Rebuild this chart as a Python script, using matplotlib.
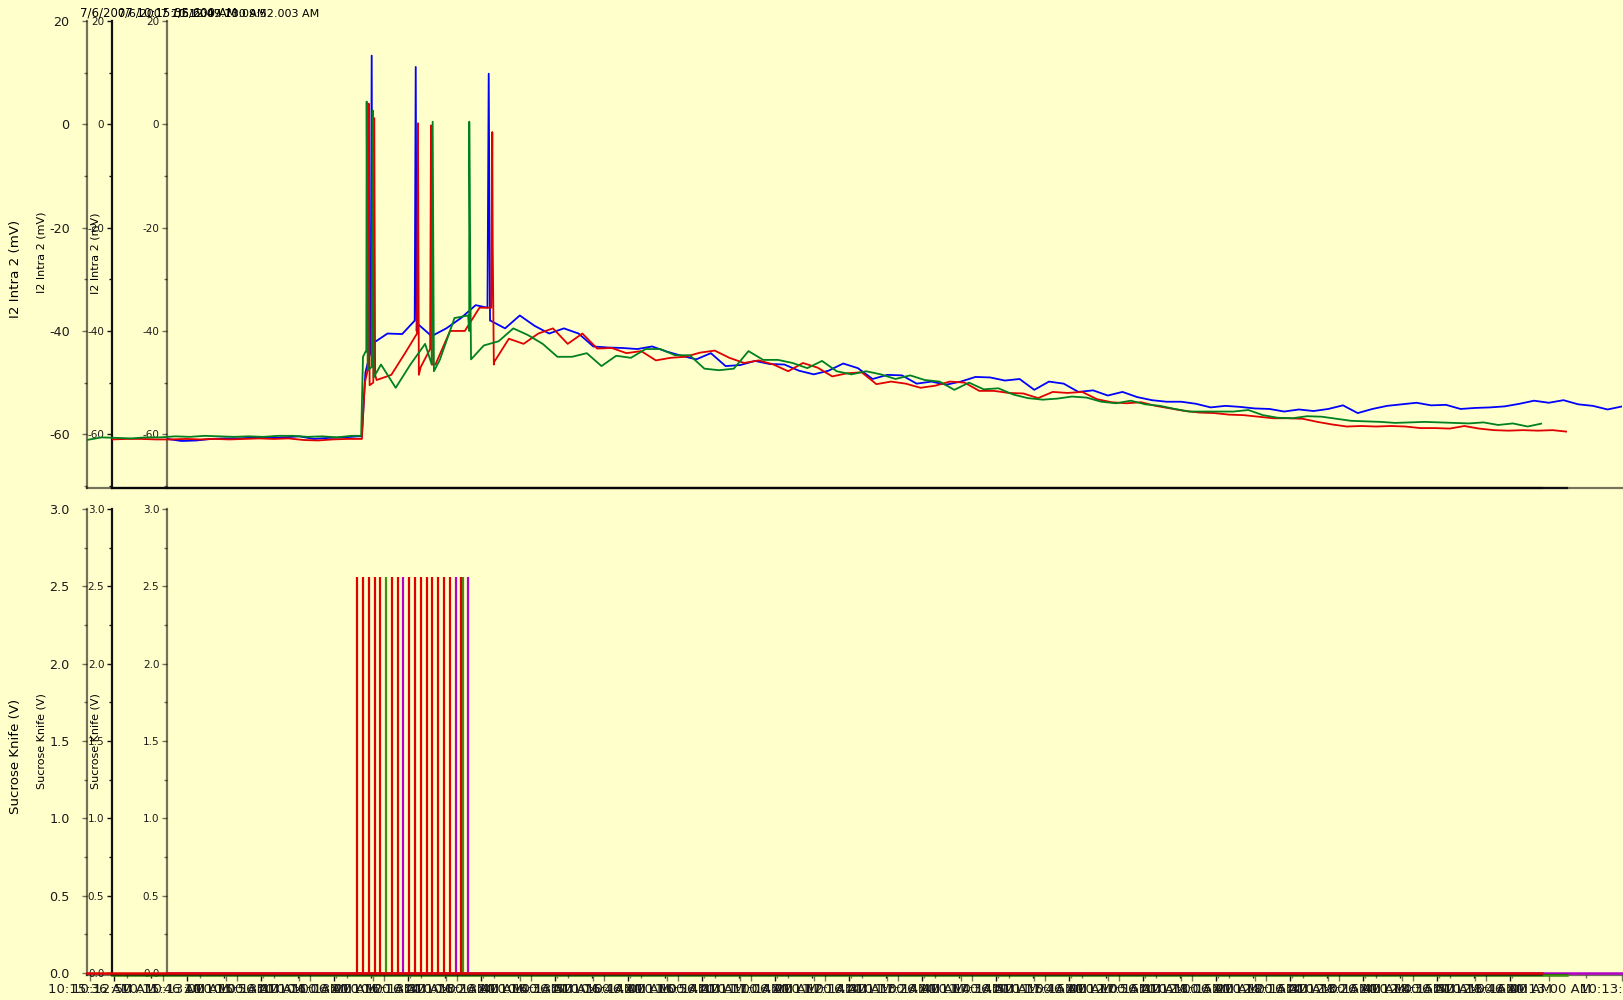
import datetime as dt
import numpy as np
import matplotlib.pyplot as plt
from matplotlib.ticker import MultipleLocator, FixedLocator

plt.rcParams['font.family'] = 'DejaVu Sans'
plt.rcParams['axes.unicode_minus'] = False

BG = '#ffffcc'
W, H = 1623, 1000

# each sweep: 100 samples, one every 2 s
step = 2.0
window = 198.0

# sweep A (green / red stim)
start_a = dt.datetime(2007, 7, 6, 10, 15, 35, 600000)
vm_a = [
    -61.1, -60.6, -60.7, -60.8, -60.6, -60.6, -60.4, -60.5, -60.3, -60.4,
    -60.5, -60.4, -60.5, -60.3, -60.3, -60.5, -60.4, -60.6, -60.3, -44.0,
    -46.5, -51.0, -46.5, -42.5, -45.6, -37.5, -40.0, -42.8, -42.0, -39.5,
    -40.8, -42.5, -45.0, -45.0, -44.3, -46.8, -44.8, -45.2, -43.5, -43.5,
    -44.7, -44.7, -47.3, -47.6, -47.3, -43.9, -45.6, -45.6, -46.2, -47.2,
    -45.8, -47.8, -48.4, -47.8, -48.4, -49.3, -48.6, -49.5, -49.8, -51.4,
    -50.0, -51.3, -51.1, -52.3, -53.0, -53.3, -53.1, -52.7, -52.9, -53.7,
    -54.0, -53.5, -54.2, -54.5, -55.1, -55.6, -55.6, -55.6, -55.6, -55.3,
    -56.3, -56.8, -56.9, -56.5, -56.6, -57.0, -57.4, -57.5, -57.6, -57.8,
    -57.7, -57.6, -57.7, -57.8, -57.9, -57.7, -58.2, -57.9, -58.5, -57.9,
]
# onset and action potentials (time s, mV)
events_a = [(37.3, -60.3), (37.55, -45.0), (37.9, -44.0),
            (38.05, 4.4), (38.2, -47.5), (38.75, -47.0), (38.87, 2.7), (39.0, -49.0),
            (46.9, -46.5), (47.03, 0.5), (47.2, -47.8),
            (51.85, -37.0), (52.01, 0.5), (52.1, -21.8), (52.25, -45.5)]
pulses_a = [36.69, 37.51, 38.33, 39.14, 39.86, 41.46, 42.27, 43.81,
            44.59, 45.40, 46.22, 46.98, 47.80, 48.57, 49.39, 50.88]
stim_base_a = 0.0

# sweep B (red / green stim)
start_b = dt.datetime(2007, 7, 6, 10, 12, 49, 730000)
vm_b = [
    -61.0, -60.9, -60.9, -61.0, -61.0, -60.9, -61.0, -60.9, -61.0, -60.9,
    -60.8, -60.9, -60.8, -61.1, -61.2, -61.0, -60.9, -60.9, -49.5, -48.5,
    -44.0, -47.0, -46.5, -40.0, -40.0, -35.5, -46.0, -41.5, -42.5, -40.5,
    -39.5, -42.5, -40.5, -43.4, -43.3, -44.3, -43.9, -45.7, -45.2, -45.0,
    -44.2, -43.8, -45.2, -46.2, -45.7, -46.5, -47.8, -46.2, -47.1, -48.8,
    -48.2, -48.0, -50.3, -49.8, -50.2, -51.0, -50.6, -49.8, -50.0, -51.6,
    -51.6, -52.0, -52.1, -53.0, -51.8, -52.0, -51.8, -53.2, -53.8, -54.0,
    -53.8, -54.5, -55.0, -55.5, -55.8, -55.9, -56.2, -56.3, -56.6, -56.9,
    -56.9, -57.0, -57.6, -58.1, -58.5, -58.4, -58.5, -58.4, -58.5, -58.8,
    -58.8, -58.9, -58.4, -58.9, -59.2, -59.3, -59.2, -59.3, -59.2, -59.5,
]
events_b = [(34.4, -50.0), (34.8, -47.5), (34.93, 4.0), (35.05, -50.5),
            (35.55, -50.0), (35.69, 1.2), (35.8, -48.5),
            (41.5, -40.5), (41.63, 0.2), (41.75, -48.5),
            (43.28, -43.5), (43.4, -0.2), (43.52, -46.5),
            (51.6, -35.5), (51.74, -1.5), (51.8, -23.7), (51.95, -46.5)]
pulses_b = [37.24, 47.69]
stim_base_b = -0.012

# sweep C (blue / magenta stim)
start_c = dt.datetime(2007, 7, 6, 10, 9, 52, 3000)
vm_c = [
    -60.9, -61.3, -61.2, -60.9, -60.8, -60.8, -60.6, -60.7, -60.6, -60.4,
    -60.9, -60.7, -60.6, -60.4, -42.4, -40.5, -40.6, -38.5, -41.0, -39.5,
    -37.5, -35.0, -38.0, -39.5, -37.0, -39.0, -40.5, -39.5, -40.5, -43.0,
    -43.2, -43.3, -43.5, -43.0, -44.0, -44.8, -45.5, -44.3, -46.8, -46.6,
    -45.8, -46.4, -46.5, -47.7, -48.4, -47.7, -46.3, -47.2, -49.3, -48.5,
    -48.6, -50.2, -49.8, -50.4, -49.8, -48.9, -49.0, -49.6, -49.3, -51.4,
    -49.8, -50.2, -51.8, -51.5, -52.5, -51.8, -52.8, -53.4, -53.7, -53.7,
    -54.1, -54.8, -54.5, -54.7, -55.0, -55.1, -55.6, -55.2, -55.5, -55.1,
    -54.4, -55.9, -55.1, -54.5, -54.2, -53.9, -54.4, -54.3, -55.1, -54.9,
    -54.8, -54.6, -54.1, -53.5, -53.9, -53.4, -54.2, -54.5, -55.2, -54.6,
]
events_c = [(26.5, -60.4), (27.0, -48.0), (27.7, -44.0),
            (27.85, 13.3), (27.95, -43.0),
            (33.7, -38.0), (33.84, 11.1), (33.97, -40.0),
            (43.6, -35.5), (43.77, 9.8), (43.95, -38.0)]
pulses_c = [32.15, 39.32, 40.91]
stim_base_c = 0.0

pulse_level = 2.56


def merge(samples, events):
    t = np.arange(len(samples)) * step
    te = np.array([e[0] for e in events])
    ve = np.array([e[1] for e in events])
    tt = np.concatenate([t, te])
    vv = np.concatenate([np.array(samples), ve])
    order = np.argsort(tt, kind='stable')
    return tt[order], vv[order]


def stamp(start):
    ms = '%03d' % (start.microsecond // 1000)
    return '%d/%d/%d %s.%s %s' % (start.month, start.day, start.year,
                                  start.strftime('%I:%M:%S'), ms, start.strftime('%p'))


# translucent spines darken where the sweeps' axes overlap
grey_spine = (0.0, 0.0, 0.0, 0.55)

sweeps = [
    # drawn back to front
    dict(start=start_c, vm=vm_c, ev=events_c, pulses=pulses_c, base=stim_base_c,
         left=167, first_tick=7.997, vcol='#0000ff', scol='#b400c8',
         spine=grey_spine, ytick=7.5, ypad=2.0, lab_x=95, lab_size=8,
         lab_y_top=253, lab_y_bot=741, title_x=171, title_size=8),
    dict(start=start_b, vm=vm_b, ev=events_b, pulses=pulses_b, base=stim_base_b,
         left=112, first_tick=0.27, vcol='#e00000', scol='#3f8f10',
         spine='#111111', ytick=7.5, ypad=2.0, lab_x=42, lab_size=8,
         lab_y_top=252, lab_y_bot=741, title_x=118, title_size=8),
    dict(start=start_a, vm=vm_a, ev=events_a, pulses=pulses_a, base=stim_base_a,
         left=87, first_tick=0.4, vcol='#008020', scol='#e00000',
         spine=grey_spine, ytick=9.2, ypad=9.0, lab_x=16, lab_size=9.6,
         lab_y_top=269, lab_y_bot=756, title_x=80, title_size=8.5),
]

fig = plt.figure(figsize=(W / 100, H / 100), dpi=100, facecolor=BG)

ax_w = window * 7.35 / W


def box(left, top, bottom):
    return [left / W, 1 - bottom / H, ax_w, (bottom - top) / H]


def style(ax, s):
    ax.set_facecolor('none')
    for side in ('top', 'right'):
        ax.spines[side].set_visible(False)
    for side in ('left', 'bottom'):
        ax.spines[side].set_color(s['spine'])
        ax.spines[side].set_linewidth(1.6)
        ax.spines[side].set_zorder(1)
    ax.tick_params(axis='y', which='both', direction='out', colors=s['spine'],
                   labelcolor='#1a1a1a', labelsize=s['ytick'], pad=s['ypad'])
    ax.tick_params(axis='y', which='major', length=3.5, width=1)
    ax.tick_params(axis='y', which='minor', length=2.5, width=1)
    ax.set_xlim(0, window)


for s in sweeps:
    t, v = merge(s['vm'], s['ev'])

    # membrane potential
    ax_v = fig.add_axes(box(s['left'], 21, 488))
    style(ax_v, s)
    ax_v.plot(t, v, color=s['vcol'], lw=1.3, zorder=3)
    ax_v.set_ylim(-70.4, 20)
    ax_v.yaxis.set_major_locator(MultipleLocator(20))
    ax_v.yaxis.set_minor_locator(MultipleLocator(10))
    ax_v.tick_params(axis='x', which='both', bottom=False, labelbottom=False)

    # stimulus channel
    ax_s = fig.add_axes(box(s['left'], 509, 975))
    style(ax_s, s)
    ax_s.plot([0, window], [s['base'], s['base']], color=s['scol'], lw=1.8,
              zorder=3, clip_on=False)
    ax_s.vlines(s['pulses'], s['base'], pulse_level, color=s['scol'], lw=1.6,
                zorder=3)
    ax_s.set_ylim(-0.012, 3.0)
    ax_s.yaxis.set_major_locator(MultipleLocator(0.5))
    ax_s.yaxis.set_minor_locator(MultipleLocator(0.25))

    ticks = np.arange(s['first_tick'], window + 0.01, 10.0)
    labels = [(s['start'] + dt.timedelta(seconds=round(x, 3))).strftime('%I:%M:%S %p')
              for x in ticks]
    ax_s.xaxis.set_major_locator(FixedLocator(ticks))
    ax_s.set_xticklabels(labels)
    ax_s.xaxis.set_minor_locator(FixedLocator(ticks[:-1] + 5.0))
    ax_s.tick_params(axis='x', which='both', direction='out', colors=s['spine'],
                     labelcolor='#1a1a1a', labelsize=9.5, pad=2)
    ax_s.tick_params(axis='x', which='major', length=4, width=1)
    ax_s.tick_params(axis='x', which='minor', length=2.5, width=1)

    # channel names and sweep timestamp
    fig.text(s['lab_x'] / W, 1 - s['lab_y_top'] / H, 'I2 Intra 2 (mV)',
             rotation=90, ha='center', va='center', fontsize=s['lab_size'])
    fig.text(s['lab_x'] / W, 1 - s['lab_y_bot'] / H, 'Sucrose Knife (V)',
             rotation=90, ha='center', va='center', fontsize=s['lab_size'])
    fig.text(s['title_x'] / W, 1 - 17 / H, stamp(s['start']),
             fontsize=s['title_size'], va='baseline')

fig.savefig('out.png', dpi=100, facecolor=BG)
